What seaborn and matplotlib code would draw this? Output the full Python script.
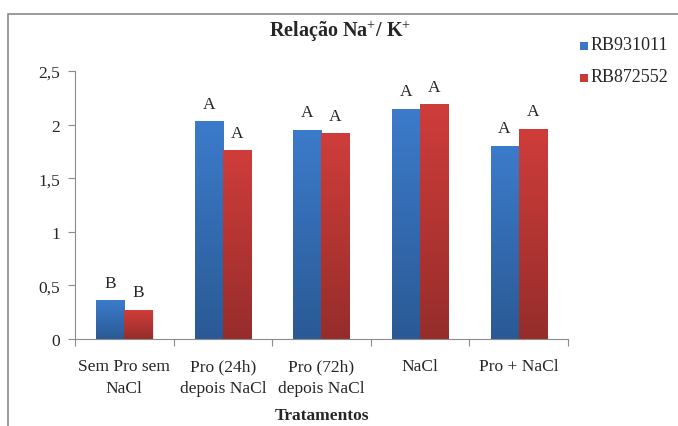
import numpy as np
import pandas as pd
import matplotlib
matplotlib.use("Agg")
import matplotlib.pyplot as plt
import seaborn as sns
from matplotlib.colors import LinearSegmentedColormap
from matplotlib.patches import Rectangle

tratamentos = ["Sem Pro sem\nNaCl", "Pro (24h)\ndepois NaCl", "Pro (72h)\ndepois NaCl",
               "NaCl", "Pro + NaCl"]
rb931011 = [0.36, 2.03, 1.95, 2.15, 1.80]
rb872552 = [0.27, 1.76, 1.92, 2.19, 1.96]
letras_rb931011 = ["B", "A", "A", "A", "A"]
letras_rb872552 = ["B", "A", "A", "A", "A"]
variedades = ["RB931011", "RB872552"]
yticks = [0, 0.5, 1, 1.5, 2, 2.5]
ytick_labels = ["0", "0,5", "1", "1,5", "2", "2,5"]

df = pd.DataFrame({
    "Tratamento": tratamentos * 2,
    "Valor": rb931011 + rb872552,
    "Variedade": [variedades[0]] * 5 + [variedades[1]] * 5,
})

sns.set_style("white")
plt.rcParams["font.family"] = "serif"
plt.rcParams["font.serif"] = ["Liberation Serif", "DejaVu Serif"]
plt.rcParams["mathtext.fontset"] = "custom"
plt.rcParams["mathtext.rm"] = "Liberation Serif"
plt.rcParams["mathtext.bf"] = "Liberation Serif:bold"

fig = plt.figure(figsize=(6.78, 4.27), dpi=100)
ax = fig.add_axes([0.1106, 0.2037, 0.727, 0.6277])

cores = {"RB931011": "#3a77c6", "RB872552": "#c93a37"}
sns.barplot(data=df, x="Tratamento", y="Valor", hue="Variedade", palette=cores,
            width=0.57, ax=ax, legend=False, saturation=1)

# vertical gradient fill for each bar, lighter at the top
grad = {
    "RB931011": LinearSegmentedColormap.from_list("b", ["#2a5a95", "#3c7bcb"]),
    "RB872552": LinearSegmentedColormap.from_list("r", ["#962d2b", "#cf3d3a"]),
}
gimg = np.linspace(0, 1, 256).reshape(-1, 1)
for cont, var in zip(ax.containers, variedades):
    for bar in cont:
        x0, y0 = bar.get_x(), bar.get_y()
        w, h = bar.get_width(), bar.get_height()
        sh = Rectangle((x0 + 0.012, y0), w, h - 0.02, facecolor="#000000", alpha=0.12,
                       edgecolor="none", zorder=1.5)
        ax.add_patch(sh)
        im = ax.imshow(gimg, cmap=grad[var], aspect="auto", origin="lower",
                       extent=(x0, x0 + w, y0, y0 + h), zorder=2)
        im.set_clip_path(bar)
        bar.set_zorder(2)

# significance letters
for cont, letras in zip(ax.containers, [letras_rb931011, letras_rb872552]):
    for bar, l in zip(cont, letras):
        ax.text(bar.get_x() + bar.get_width() / 2, bar.get_height() + 0.09, l,
                ha="center", va="bottom", fontsize=12.5)

ax.set_xlim(-0.5, 4.5)
ax.set_ylim(0, 2.5)
ax.set_yticks(yticks)
ax.set_yticklabels(ytick_labels, fontsize=12.5)
ax.set_xticks(np.arange(-0.5, 5, 1), minor=False)
ax.set_xticklabels([])
ax.set_xticks(np.arange(5), minor=True)
ax.set_xticklabels(tratamentos, minor=True, fontsize=12.5, linespacing=1.45)
ax.tick_params(axis="x", which="minor", length=0, pad=14)
ax.tick_params(axis="x", which="major", length=5, width=0.8, color="#8c8c8c", direction="out")
ax.tick_params(axis="y", length=5, width=0.8, color="#8c8c8c", direction="out", pad=6)
ax.tick_params(bottom=True, left=True)
for s in ["top", "right"]:
    ax.spines[s].set_visible(False)
for s in ["left", "bottom"]:
    ax.spines[s].set_color("#8c8c8c")
    ax.spines[s].set_linewidth(0.8)
ax.set_ylabel("")
ax.set_xlabel("Tratamentos", fontsize=12.5, fontweight="bold", labelpad=8)

fig.text(0.502, 0.928, r"Relação Na$^{+}$/ K$^{+}$", ha="center", va="center",
         fontsize=14.5, fontweight="bold")

# legend
for i, var in enumerate(variedades):
    yy = 1 - (46 + 32 * i) / 427
    fig.patches.append(Rectangle((580 / 678, yy - 0.011), 8 / 678, 8 / 427,
                                 transform=fig.transFigure, facecolor=cores[var],
                                 edgecolor="none"))
    fig.text(591 / 678, yy, var, ha="left", va="center", fontsize=13)

# chart area frame
fig.patches.append(Rectangle((8 / 678, -0.05), 1.0, 1 - 15 / 427 + 0.05,
                             transform=fig.transFigure, facecolor="none",
                             edgecolor="#8a8a8a", linewidth=1.2))

fig.savefig("out.png", dpi=100)
